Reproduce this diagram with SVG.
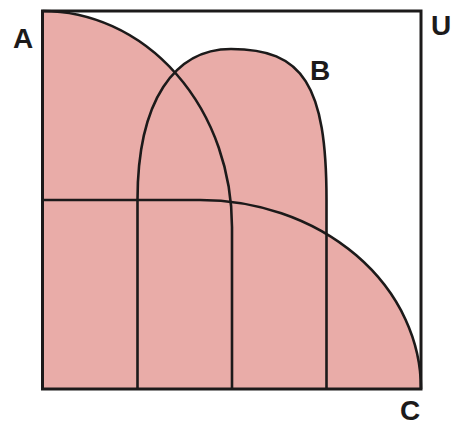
<svg xmlns="http://www.w3.org/2000/svg" width="455" height="427" viewBox="0 0 455 427">
<style>
.region{fill:#E9ACA8;stroke:none}
.edge{fill:none;stroke:#1c1a1a;stroke-width:2.6;stroke-linejoin:round}
.frame{fill:none;stroke:#1c1a1a;stroke-width:3}
.lbl{font-family:"Liberation Sans",Arial,sans-serif;font-weight:bold;font-size:28px;fill:#1c1a1a}
</style>
<rect width="455" height="427" fill="#ffffff"/>
<g id="fills">
<path class="region" d="M42.5,11 A189.5,216 0 0 1 232,227 V389 H42.5 Z"/>
<path class="region" d="M137.5,389 V200 C137.5,100 175,49 231,49 C303,49 326.5,85 326.5,200 V389 Z"/>
<path class="region" d="M42.5,200 H200 A221,189 0 0 1 421,389 H42.5 Z"/>
</g>
<g id="U">
<rect class="frame" x="42.5" y="11" width="378.5" height="378"/>
<text class="lbl" x="431" y="35">U</text>
</g>
<g id="A">
<path class="edge" d="M42.5,11 A189.5,216 0 0 1 232,227 V389"/>
<text class="lbl" x="13" y="48">A</text>
</g>
<g id="B">
<path class="edge" d="M137.5,389 V200 C137.5,100 175,49 231,49 C303,49 326.5,85 326.5,200 V389"/>
<text class="lbl" x="310" y="80">B</text>
</g>
<g id="C">
<path class="edge" d="M42.5,200 H200 A221,189 0 0 1 421,389"/>
<text class="lbl" x="400" y="420" font-size="27">C</text>
</g>
<g id="connectors"></g>
</svg>
